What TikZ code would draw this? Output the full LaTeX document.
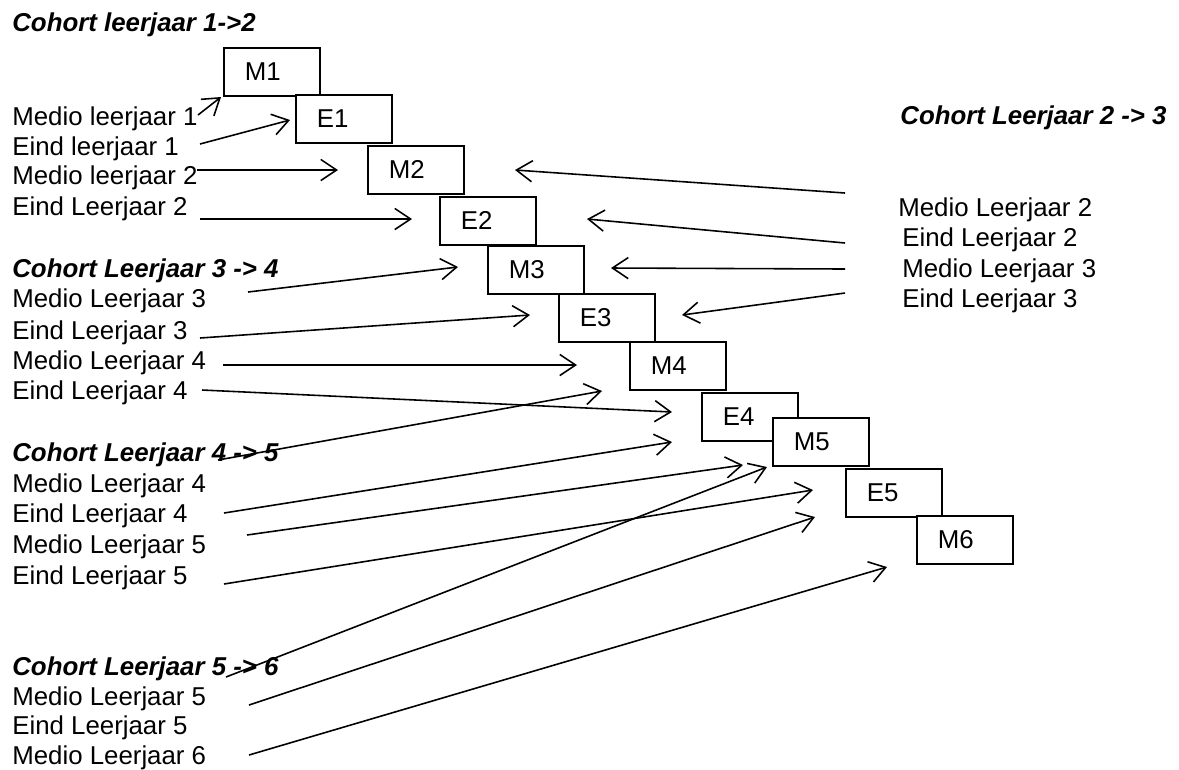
\documentclass[tikz,border=0pt]{standalone}
\usepackage{fontspec}
\setmainfont{Liberation Sans}
\usetikzlibrary{arrows.meta}

\begin{document}
\begin{tikzpicture}[x=0.02cm, y=-0.02cm,
  txt/.style={anchor=base west, inner sep=0pt, font=\fontsize{14.7}{17}\selectfont},
  head/.style={txt, font=\fontsize{14.7}{17}\selectfont\bfseries\itshape},
  box/.style={draw, fill=white, line width=1pt, anchor=north west,
    minimum height=0.96cm, text width=1.08cm, inner xsep=0.42cm, inner ysep=0pt,
    align=left, font=\fontsize{14.7}{17}\selectfont},
  arr/.style={line width=0.9pt, -{Straight Barb[length=9pt,width=12pt]}}]

% Picture frame
\useasboundingbox (0,0) rectangle (1179,769);

% Staircase of measurement moments
\node[box] (M1) at (223,47) {M1};
\node[box] (E1) at (295,94) {E1};
\node[box] (M2) at (367,145) {M2};
\node[box] (E2) at (439,196) {E2};
\node[box] (M3) at (487,245) {M3};
\node[box] (E3) at (558,293) {E3};
\node[box] (M4) at (629,341) {M4};
\node[box] (E4) at (701,392) {E4};
\node[box] (M5) at (772,417) {M5};
\node[box] (E5) at (845,468) {E5};
\node[box] (M6) at (916,515) {M6};

% Cohort 1->2 (left)
\node[head] (h12) at (12,31) {Cohort leerjaar 1->2};
\node[txt] (a1) at (12,125) {Medio leerjaar 1};
\node[txt] (a2) at (12,155) {Eind leerjaar 1};
\node[txt] (a3) at (12,184) {Medio leerjaar 2};
\node[txt] (a4) at (12,215) {Eind Leerjaar 2};

% Cohort 2->3 (right)
\node[head] (h23) at (900,124) {Cohort Leerjaar 2 -> 3};
\node[txt] (b1) at (898,216) {Medio Leerjaar 2};
\node[txt] (b2) at (902,246) {Eind Leerjaar 2};
\node[txt] (b3) at (902,277) {Medio Leerjaar 3};
\node[txt] (b4) at (902,307) {Eind Leerjaar 3};

% Cohort 3->4
\node[head] (h34) at (12,277) {Cohort Leerjaar 3 -> 4};
\node[txt] (c1) at (12,307) {Medio Leerjaar 3};
\node[txt] (c2) at (12,339) {Eind Leerjaar 3};
\node[txt] (c3) at (12,369) {Medio Leerjaar 4};
\node[txt] (c4) at (12,399) {Eind Leerjaar 4};

% Cohort 4->5
\node[head] (h45) at (12,461) {Cohort Leerjaar 4 -> 5};
\node[txt] (d1) at (12,492) {Medio Leerjaar 4};
\node[txt] (d2) at (12,522) {Eind Leerjaar 4};
\node[txt] (d3) at (12,553) {Medio Leerjaar 5};
\node[txt] (d4) at (12,584) {Eind Leerjaar 5};

% Cohort 5->6
\node[head] (h56) at (12,675) {Cohort Leerjaar 5 -> 6};
\node[txt] (f1) at (12,705) {Medio Leerjaar 5};
\node[txt] (f2) at (12,734) {Eind Leerjaar 5};
\node[txt] (f3) at (12,764) {Medio Leerjaar 6};

% Arrow ends, cohort 1->2
\coordinate (sa1) at (198,115); \coordinate (ea1) at (221,97);
\coordinate (sa2) at (200,144); \coordinate (ea2) at (290,120);
\coordinate (sa3) at (197,170); \coordinate (ea3) at (338,170);
\coordinate (sa4) at (200,219); \coordinate (ea4) at (412,219);

% Arrow ends, cohort 2->3
\coordinate (sb1) at (845,193); \coordinate (eb1) at (515,170);
\coordinate (sb2) at (845,243); \coordinate (eb2) at (587,219);
\coordinate (sb3) at (845,269); \coordinate (eb3) at (611,268);
\coordinate (sb4) at (845,293); \coordinate (eb4) at (682,315);

% Arrow ends, cohort 3->4
\coordinate (sc1) at (248,292); \coordinate (ec1) at (458,267);
\coordinate (sc2) at (200,338); \coordinate (ec2) at (530,315);
\coordinate (sc3) at (223,365); \coordinate (ec3) at (577,365);
\coordinate (sc4) at (202,390); \coordinate (ec4) at (672,412);

% Arrow ends, cohort 4->5
\coordinate (sd1) at (218,460); \coordinate (ed1) at (602,391);
\coordinate (sd2) at (224,513); \coordinate (ed2) at (672,442);
\coordinate (sd3) at (247,535); \coordinate (ed3) at (743,465);
\coordinate (sd4) at (224,584); \coordinate (ed4) at (813,490);

% Arrow ends, cohort 5->6
\coordinate (sf1) at (226,677); \coordinate (ef1) at (767,467);
\coordinate (sf2) at (249,705); \coordinate (ef2) at (815,517);
\coordinate (sf3) at (249,755); \coordinate (ef3) at (887,567);

% Draw the arrows
\foreach \g in {a,b,c,d}
  \foreach \i in {1,...,4}
    \draw[arr] (s\g\i) -- (e\g\i);
\foreach \i in {1,...,3}
  \draw[arr] (sf\i) -- (ef\i);

\end{tikzpicture}
\end{document}
